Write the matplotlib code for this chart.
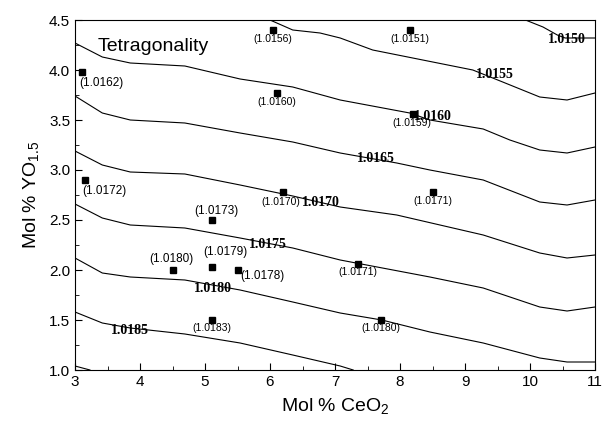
import matplotlib.pyplot as plt

plt.rcParams['font.family'] = ['Liberation Sans', 'DejaVu Sans']
plt.rcParams['mathtext.default'] = 'regular'

# contour lines (Mol % CeO2, Mol % YO1.5)
levels = ["1.0150", "1.0155", "1.0160", "1.0165", "1.0170", "1.0175", "1.0180", "1.0185", "1.0190"]
cx = [
	[9.93, 10.20, 10.42, 10.54, 11.0],
	[6.0, 6.35, 6.77, 7.08, 7.58, 9.12, 9.58, 10.15, 10.57, 11.0],
	[3.0, 3.42, 3.85, 4.69, 5.54, 6.35, 7.08, 8.15, 8.46, 9.28, 9.69, 10.15, 10.57, 11.0],
	[3.0, 3.42, 3.85, 4.69, 5.54, 6.35, 7.08, 7.95, 8.46, 9.28, 10.15, 10.57, 11.0],
	[3.0, 3.42, 3.85, 4.69, 5.54, 6.35, 7.08, 7.95, 9.28, 10.15, 10.57, 11.0],
	[3.0, 3.42, 3.85, 4.69, 5.54, 6.35, 7.08, 8.46, 9.28, 10.15, 10.57, 11.0],
	[3.0, 3.42, 3.85, 4.69, 5.54, 6.35, 7.08, 7.72, 8.46, 9.28, 10.15, 10.57, 11.0],
	[3.0, 3.42, 3.85, 4.69, 5.54, 6.35, 7.08, 7.28],
	[3.0, 3.23],
]
cy = [
	[4.5, 4.43, 4.35, 4.32, 4.32],
	[4.5, 4.40, 4.37, 4.32, 4.20, 4.0, 3.88, 3.73, 3.70, 3.77],
	[4.27, 4.13, 4.07, 4.04, 3.91, 3.83, 3.70, 3.57, 3.50, 3.41, 3.30, 3.20, 3.17, 3.23],
	[3.74, 3.57, 3.50, 3.47, 3.37, 3.28, 3.17, 3.07, 3.0, 2.90, 2.68, 2.65, 2.70],
	[3.19, 3.05, 2.98, 2.96, 2.85, 2.74, 2.63, 2.55, 2.35, 2.17, 2.12, 2.15],
	[2.66, 2.52, 2.45, 2.42, 2.32, 2.22, 2.10, 1.93, 1.82, 1.63, 1.59, 1.63],
	[2.12, 1.97, 1.93, 1.90, 1.80, 1.68, 1.57, 1.50, 1.38, 1.27, 1.12, 1.08, 1.08],
	[1.58, 1.47, 1.42, 1.36, 1.27, 1.15, 1.04, 1.0],
	[1.04, 1.0],
]
# where each contour value is written
label_x = [10.57, 9.46, 8.50, 7.63, 6.78, 5.97, 5.13, 3.85]
label_y = [4.31, 3.95, 3.53, 3.11, 2.67, 2.25, 1.82, 1.40]

# measured samples
ceo2 = [6.05, 3.1, 6.1, 8.15, 8.2, 3.15, 6.2, 5.1, 4.5, 5.1, 5.5, 5.1, 8.5, 7.35, 7.7]
yo15 = [4.4, 3.98, 3.77, 4.4, 3.56, 2.9, 2.78, 2.5, 2.0, 2.03, 2.0, 1.5, 2.78, 2.06, 1.5]
tetra = ["1.0156", "1.0162", "1.0160", "1.0151", "1.0159", "1.0172", "1.0170", "1.0173",
	"1.0180", "1.0179", "1.0178", "1.0183", "1.0171", "1.0171", "1.0180"]

# text placement next to each point (pixels) and size
offs = [(0, -9), (20, -11), (0, -9), (0, -9), (-1, -9), (20, -11), (-2, -10), (5, 9),
	(-1, 11), (14, 15), (25, -6), (0, -8), (0, -9), (0, -8), (0, -8)]
sizes = [7.5, 8.5, 7.5, 7.5, 7.5, 8.5, 7.5, 8.5, 8.5, 8.5, 8.5, 7.5, 7.5, 7.5, 7.5]

fig = plt.figure(figsize=(6.04, 4.22), dpi=100)
ax = fig.add_axes([75/604, 1-370/422, 520/604, 350/422])

for xs, ys in zip(cx, cy):
	ax.plot(xs, ys, color="black", linewidth=0.8)

for i in range(len(label_x)):
	ax.text(label_x[i], label_y[i], levels[i], fontsize=10, fontweight="bold",
		family="Liberation Serif", ha="center", va="center")

ax.plot(ceo2, yo15, "s", color="black", markersize=5)
for i in range(len(ceo2)):
	ax.annotate("(" + tetra[i] + ")", (ceo2[i], yo15[i]), xytext=offs[i],
		textcoords="offset pixels", ha="center", va="center", fontsize=sizes[i])

ax.text(3.35, 4.23, "Tetragonality", fontsize=14, ha="left", va="center")

ax.set_xlim(3, 11)
ax.set_ylim(1.0, 4.5)
ax.set_xticks(range(3, 12))
ax.set_xticks([3.5 + i for i in range(8)], minor=True)
ax.set_yticks([1.0, 1.5, 2.0, 2.5, 3.0, 3.5, 4.0, 4.5])
ax.set_yticks([1.25, 1.75, 2.25, 2.75, 3.25, 3.75, 4.25], minor=True)
ax.tick_params(which="both", direction="in", top=False, right=False, labelsize=11)
ax.tick_params(which="major", length=5)
ax.tick_params(which="minor", length=3)
ax.set_xlabel("Mol % CeO$_2$", fontsize=14, labelpad=5)
ax.set_ylabel("Mol % YO$_{1.5}$", fontsize=14, labelpad=6)

fig.savefig("out.png", dpi=100)
